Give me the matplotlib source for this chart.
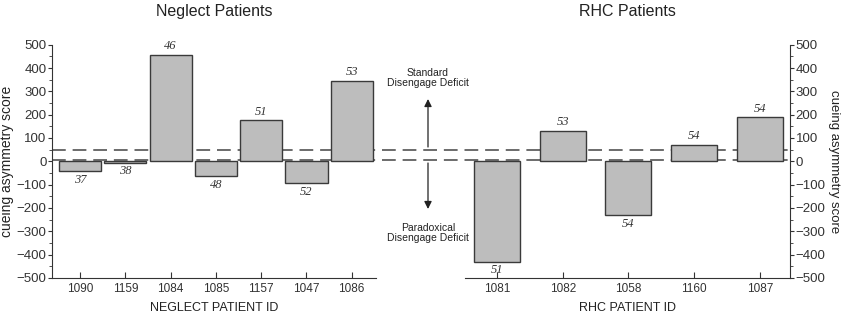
import matplotlib.pyplot as plt
from matplotlib.patches import FancyArrowPatch
from matplotlib.ticker import MultipleLocator

plt.rcParams['font.family'] = ['Liberation Sans', 'DejaVu Sans']

# neglect patients
neglect_ids = ['1090', '1159', '1084', '1085', '1157', '1047', '1086']
neglect_scores = [-42, -6, 458, -65, 175, -92, 345]
neglect_ages = ['37', '38', '46', '48', '51', '52', '53']

# right hemisphere control patients
rhc_ids = ['1081', '1082', '1058', '1160', '1087']
rhc_scores = [-430, 130, -230, 70, 188]
rhc_ages = ['51', '53', '54', '54', '54']

# dashed reference levels
ref_levels = [50, 5]

bar_color = '#bdbdbd'
edge_color = '#3a3a3a'
axis_color = '#333333'
text_color = '#222222'

fig = plt.figure(figsize=(8.43, 3.15), dpi=100)

bottom, height = 0.118, 0.740
ax_l = fig.add_axes([0.0617, bottom, 0.384, height])
ax_r = fig.add_axes([0.5516, bottom, 0.3855, height])
ax_bg = fig.add_axes([0.0617, bottom, 0.5516 + 0.3855 - 0.0617, height], zorder=-1)
ax_bg.set_ylim(-500, 500)
ax_bg.axis('off')
for lvl in ref_levels:
    ax_bg.axhline(lvl, color='#444444', lw=1.1, ls=(0, (9, 4.5)))


def draw_panel(ax, ids, scores, ages, width, xlim, side):
    x = range(len(ids))
    ax.patch.set_alpha(0)
    bars = ax.bar(x, scores, width=width, color=bar_color, edgecolor=edge_color, lw=1.0, zorder=2)
    for b, s, a in zip(bars, scores, ages):
        xc = b.get_x() + b.get_width() / 2
        if s >= 0:
            ax.text(xc, s + 12, a, ha='center', va='bottom', fontsize=9,
                    family='Liberation Serif', style='italic', color='#333333')
        else:
            ax.text(xc, s - 12, a, ha='center', va='top', fontsize=9,
                    family='Liberation Serif', style='italic', color='#333333')
    ax.set_xlim(*xlim)
    ax.set_ylim(-500, 500)
    ax.set_xticks(list(x))
    ax.set_xticklabels(ids)
    ax.yaxis.set_major_locator(MultipleLocator(100))
    ax.yaxis.set_minor_locator(MultipleLocator(50))
    ax.tick_params(axis='x', direction='in', length=4, labelsize=8.5, colors=axis_color, pad=4)
    ax.tick_params(axis='y', which='major', direction='out', length=3, labelsize=9.5,
                   colors=axis_color, pad=1)
    ax.tick_params(axis='y', which='minor', direction='out', length=2, colors=axis_color)
    for sp in ['top', 'left', 'right', 'bottom']:
        ax.spines[sp].set_visible(False)
    ax.spines['bottom'].set_visible(True)
    ax.spines['bottom'].set_color(axis_color)
    ax.spines[side].set_visible(True)
    ax.spines[side].set_color(axis_color)
    if side == 'right':
        ax.yaxis.tick_right()
        ax.yaxis.set_label_position('right')
    yt = [f'{v}' if v >= 0 else f'\u2212{-v}' for v in range(-500, 501, 100)]
    ax.set_yticks(range(-500, 501, 100))
    ax.set_yticklabels(yt)


draw_panel(ax_l, neglect_ids, neglect_scores, neglect_ages, 0.93, (-0.62, 6.53), 'left')
draw_panel(ax_r, rhc_ids, rhc_scores, rhc_ages, 0.70, (-0.49, 4.46), 'right')

ax_l.set_title('Neglect Patients', fontsize=11.5, pad=21, color=text_color)
ax_r.set_title('RHC Patients', fontsize=11.5, pad=21, color=text_color)
ax_l.set_xlabel('NEGLECT PATIENT ID', fontsize=9, labelpad=5, color=text_color)
ax_r.set_xlabel('RHC PATIENT ID', fontsize=9, labelpad=5, color=text_color)
ax_l.set_ylabel('cueing asymmetry score', fontsize=10, labelpad=1.5, color=text_color)
ax_r.set_ylabel('cueing asymmetry score', fontsize=9.5, labelpad=1.5, rotation=-90,
                va='bottom', color=text_color)

# annotations in the gap
fig.text(428 / 843, 1 - 78 / 315, 'Standard\nDisengage Deficit', ha='center', va='center',
         fontsize=7.5, color=text_color, linespacing=1.1)
fig.text(428 / 843, 1 - 233 / 315, 'Paradoxical\nDisengage Deficit', ha='center', va='center',
         fontsize=7.5, color=text_color, linespacing=1.1)
arrow = dict(arrowstyle='-|>', color=text_color, lw=0.9, mutation_scale=11, shrinkA=0, shrinkB=0)
fig.add_artist(FancyArrowPatch((428 / 843, 1 - 147 / 315), (428 / 843, 1 - 99 / 315),
                               transform=fig.transFigure, **arrow))
fig.add_artist(FancyArrowPatch((428 / 843, 1 - 163 / 315), (428 / 843, 1 - 209 / 315),
                               transform=fig.transFigure, **arrow))

fig.savefig('out.png', dpi=100)
